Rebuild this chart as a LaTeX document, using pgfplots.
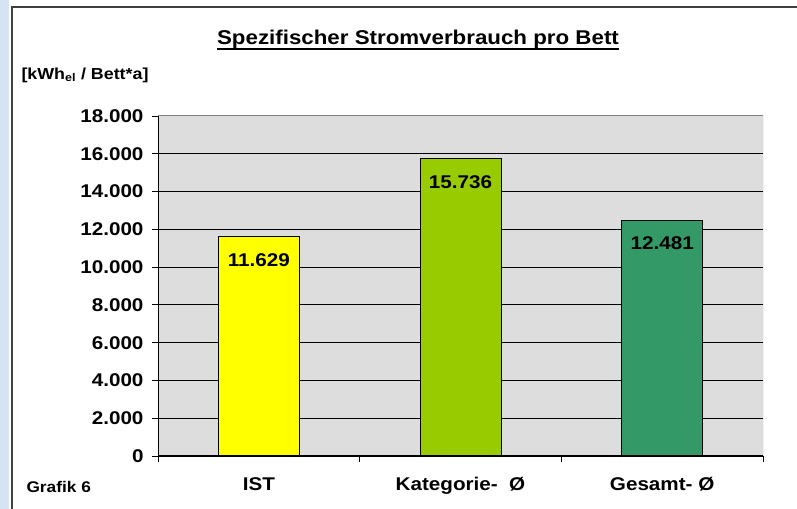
\documentclass[border=0pt]{standalone}
\usepackage{pgfplots}
\pgfplotsset{compat=1.18}
\usepackage{fontspec}
\setmainfont{Liberation Sans}[FakeStretch=1.12]
\definecolor{bggray}{HTML}{DDDDDD}
\definecolor{stripblue}{HTML}{D6E3F2}
\definecolor{framegray}{HTML}{404040}
\definecolor{barA}{HTML}{FFFF00}
\definecolor{barB}{HTML}{99CC00}
\definecolor{barC}{HTML}{339966}
\begin{document}
\begin{tikzpicture}[x=1bp,y=1bp]
\useasboundingbox (0,0) rectangle (797,509);
\fill[stripblue] (0,0) rectangle (9,509);
\draw[framegray, line width=1.3bp] (12,0) -- (12,502) -- (797,502);
\node[anchor=base, inner sep=0pt, font=\fontsize{20}{24}\selectfont\bfseries] (t) at (418,464) {Spezifischer Stromverbrauch pro Bett};
\draw[black, line width=2.6bp] ([yshift=-4bp]t.base west) -- ([yshift=-4bp]t.base east);
\node[anchor=west, font=\fontsize{16}{18}\selectfont\bfseries] at (18,434) {[kWh\textsubscript{el} / Bett*a]};
\node[anchor=west, font=\fontsize{15.5}{17}\selectfont\bfseries] at (23,22) {Grafik 6};
\begin{axis}[
  at={(158bp,53bp)}, anchor=south west,
  width=605bp, height=340bp, scale only axis,
  xmin=0.5, xmax=3.5, ymin=0, ymax=18000,
  axis background/.style={fill=bggray},
  axis x line*=bottom, axis y line*=left,
  axis line style={black, line width=1bp, -},
  ytick={0,2000,...,16000},
  extra y ticks={18000}, extra y tick style={ymajorgrids=false},
  ymajorgrids, grid style={black, line width=0.9bp},
  xtick={0.5,1.5,2.5,3.5}, xticklabels={},
  extra x ticks={1,2,3},
  extra x tick labels={IST, Kategorie-\ \ Ø, Gesamt-\ Ø},
  extra x tick style={major tick length=0pt, xmajorgrids=false},
  tick align=outside, major tick length=6bp,
  tick style={black, line width=0.9bp},
  scaled y ticks=false,
  /pgf/number format/1000 sep={.},
  /pgf/number format/assume math mode=true,
  ticklabel style={font=\fontsize{18.5}{20}\selectfont\bfseries},
  yticklabel style={xshift=-5bp},
  xticklabel style={yshift=-18bp},
  ybar, bar width=81bp,
  nodes near coords,
  nodes near coords style={anchor=north, yshift=-13bp, font=\fontsize{18.5}{20}\selectfont\bfseries, text=black},
]
\addplot[fill=barA, draw=black, line width=1bp, bar shift=0pt] coordinates {(1,11629)};
\addplot[fill=barB, draw=black, line width=1bp, bar shift=0pt] coordinates {(2,15736)};
\addplot[fill=barC, draw=black, line width=1bp, bar shift=0pt] coordinates {(3,12481)};
\draw[gray, line width=1bp] (rel axis cs:0,1) -- (rel axis cs:1,1) -- (rel axis cs:1,0);
\end{axis}
\end{tikzpicture}
\end{document}
